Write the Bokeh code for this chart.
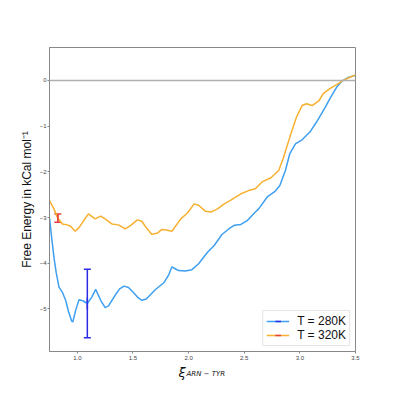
import math
from bokeh.plotting import figure
from bokeh.layouts import column
from bokeh.models import (ColumnDataSource, Whisker, TeeHead, Legend, LegendItem,
                          Span, FixedTicker, CustomJSTickFormatter, Range1d)
from bokeh.core.properties import value
from bokeh.embed import file_html
from bokeh.resources import INLINE

# ---- data ----
xi_280 = [0.75, 0.77, 0.79, 0.81, 0.835, 0.865, 0.895, 0.92, 0.95, 0.96, 0.985,
          1.015, 1.05, 1.09, 1.13, 1.165, 1.21, 1.25, 1.28, 1.34, 1.38, 1.42,
          1.46, 1.50, 1.54, 1.58, 1.62, 1.70, 1.78, 1.82, 1.85, 1.88, 1.91,
          1.97, 2.03, 2.09, 2.17, 2.23, 2.30, 2.36, 2.41, 2.47, 2.53, 2.60,
          2.63, 2.71, 2.78, 2.82, 2.87, 2.91, 2.96, 3.02, 3.09, 3.15, 3.23,
          3.27, 3.33, 3.38, 3.44, 3.50]
fe_280 = [-3.0, -3.45, -3.87, -4.2, -4.52, -4.63, -4.81, -5.05, -5.27, -5.28, -5.03,
          -4.80, -4.82, -4.88, -4.74, -4.57, -4.81, -4.97, -4.93, -4.70, -4.56, -4.50,
          -4.53, -4.63, -4.74, -4.81, -4.78, -4.58, -4.42, -4.26, -4.08, -4.12, -4.16,
          -4.17, -4.14, -4.01, -3.76, -3.61, -3.37, -3.25, -3.17, -3.15, -3.06, -2.88,
          -2.81, -2.54, -2.42, -2.30, -1.97, -1.60, -1.39, -1.30, -1.13, -0.91, -0.58,
          -0.40, -0.15, -0.01, 0.07, 0.11]

xi_320 = [0.75, 0.79, 0.82, 0.865, 0.91, 0.94, 0.98, 1.015, 1.06, 1.10, 1.16,
          1.21, 1.25, 1.31, 1.37, 1.43, 1.48, 1.54, 1.58, 1.61, 1.67, 1.72,
          1.76, 1.80, 1.85, 1.93, 1.99, 2.05, 2.09, 2.15, 2.20, 2.26, 2.32,
          2.38, 2.47, 2.54, 2.60, 2.66, 2.74, 2.81, 2.85, 2.91, 2.97, 3.02,
          3.06, 3.11, 3.17, 3.21, 3.27, 3.33, 3.39, 3.45, 3.50]
fe_320 = [-2.63, -2.81, -2.99, -3.14, -3.16, -3.19, -3.30, -3.22, -3.06, -2.92, -3.03,
          -2.97, -3.03, -3.14, -3.16, -3.25, -3.17, -3.05, -3.08, -3.19, -3.37, -3.34,
          -3.26, -3.27, -3.30, -3.03, -2.90, -2.70, -2.73, -2.86, -2.88, -2.81, -2.70,
          -2.62, -2.48, -2.41, -2.37, -2.22, -2.13, -1.97, -1.71, -1.24, -0.80, -0.55,
          -0.51, -0.55, -0.45, -0.29, -0.18, -0.09, 0.0, 0.07, 0.12]

err_x_280 = [1.09]
err_y_280 = [-4.88]
err_280 = [0.75]

err_x_320 = [0.825]
err_y_320 = [-3.01]
err_320 = [0.09]

x_ticks = [1.0, 1.5, 2.0, 2.5, 3.0, 3.5]
y_ticks = [0, -1, -2, -3, -4, -5]
labels = ["T = 280K", "T = 320K"]
x_label_main = "\u03be"
x_label_sub = "ARN \u2212 TYR"

BLUE = "#3f9ff0"
ORANGE = "#f7b030"
EBLUE = "#2b2be6"
ERED = "#e8403a"
FONT = "Liberation Sans"
X0, X1 = 0.75, 3.5

p = figure(width=387, height=362, output_backend="svg", toolbar_location=None,
           x_range=Range1d(X0, X1), y_range=Range1d(-5.93, 0.72),
           min_border_left=49, min_border_right=32, min_border_top=47,
           min_border_bottom=11)
p.xgrid.visible = False
p.ygrid.visible = False
p.outline_line_color = "#888888"
p.outline_line_width = 1
p.background_fill_color = "white"
p.border_fill_color = "white"

for ax in (p.xaxis[0], p.yaxis[0]):
    ax.axis_line_color = "#888888"
    ax.major_tick_line_color = "#888888"
    ax.major_tick_out = 2
    ax.major_tick_in = 0
    ax.minor_tick_line_color = None
    ax.major_label_text_font = FONT
    ax.major_label_text_font_size = "6px"
    ax.major_label_text_color = "#444444"

p.xaxis.ticker = FixedTicker(ticks=x_ticks)
p.xaxis.formatter = CustomJSTickFormatter(code="return tick.toFixed(1);")
p.xaxis.major_label_standoff = 2
p.yaxis.ticker = FixedTicker(ticks=y_ticks)
p.yaxis.formatter = CustomJSTickFormatter(
    code="return tick.toFixed(0).replace('-', '\u2212');")
p.yaxis.major_label_standoff = 1
p.yaxis.axis_label = "Free Energy in kCal mol\u207b\u00b9"
p.yaxis.axis_label_text_font = FONT
p.yaxis.axis_label_text_font_size = "12px"
p.yaxis.axis_label_text_font_style = "normal"
p.yaxis.axis_label_text_color = "#111111"
p.yaxis.axis_label_standoff = 3

# zero line
p.add_layout(Span(location=0, dimension="width", line_color="#b0b0b0", line_width=1.5))

r280 = p.line(xi_280, fe_280, line_color=BLUE, line_width=1.5)
r320 = p.line(xi_320, fe_320, line_color=ORANGE, line_width=1.5)

s280 = ColumnDataSource(dict(x=err_x_280,
                             lo=[y - e for y, e in zip(err_y_280, err_280)],
                             hi=[y + e for y, e in zip(err_y_280, err_280)]))
s320 = ColumnDataSource(dict(x=err_x_320,
                             lo=[y - e for y, e in zip(err_y_320, err_320)],
                             hi=[y + e for y, e in zip(err_y_320, err_320)]))
for src, col in ((s280, EBLUE), (s320, ERED)):
    p.add_layout(Whisker(source=src, base="x", lower="lo", upper="hi",
                         dimension="height", line_color=col, line_width=1.5,
                         lower_head=TeeHead(size=7, line_color=col, line_width=1.5),
                         upper_head=TeeHead(size=7, line_color=col, line_width=1.5)))

d280 = p.scatter(err_x_280, err_y_280, marker="dash", angle=math.pi / 2, size=12,
                 line_color=EBLUE, line_width=1.5)
d320 = p.scatter(err_x_320, err_y_320, marker="dash", angle=math.pi / 2, size=7,
                 line_color=ERED, line_width=1.5)

legend = Legend(items=[LegendItem(label=labels[0], renderers=[r280, d280]),
                       LegendItem(label=labels[1], renderers=[r320, d320])],
                location="bottom_right", label_text_font=FONT,
                label_text_font_size="12px", label_text_color="#111111",
                glyph_width=23, glyph_height=14, label_height=14, spacing=0,
                padding=3, margin=5, label_standoff=8,
                border_line_color="#cccccc", border_line_width=1,
                background_fill_color="white", background_fill_alpha=0.85)
p.add_layout(legend)

# strip below the plot carrying the x-axis label (xi with subscript)
strip = figure(width=387, height=25, output_backend="svg", toolbar_location=None,
               x_range=p.x_range, y_range=Range1d(25, 0),
               min_border_left=49, min_border_right=32, min_border_top=0,
               min_border_bottom=0, x_axis_type=None, y_axis_type=None)
strip.outline_line_color = None
strip.xgrid.visible = False
strip.ygrid.visible = False
xm = (X0 + X1) / 2
strip.text(x=[xm], y=[10], text=[x_label_main], x_offset=-24,
           text_font=value("DejaVu Sans"), text_font_style="italic",
           text_font_size="13px", text_color="#111111", text_baseline="alphabetic")
strip.text(x=[xm], y=[11], text=[x_label_sub], x_offset=-16,
           text_font=value("DejaVu Sans"), text_font_style="italic",
           text_font_size="7px", text_color="#111111", text_baseline="alphabetic")

open("out.html", "w").write(file_html(column(p, strip, spacing=0), INLINE))
